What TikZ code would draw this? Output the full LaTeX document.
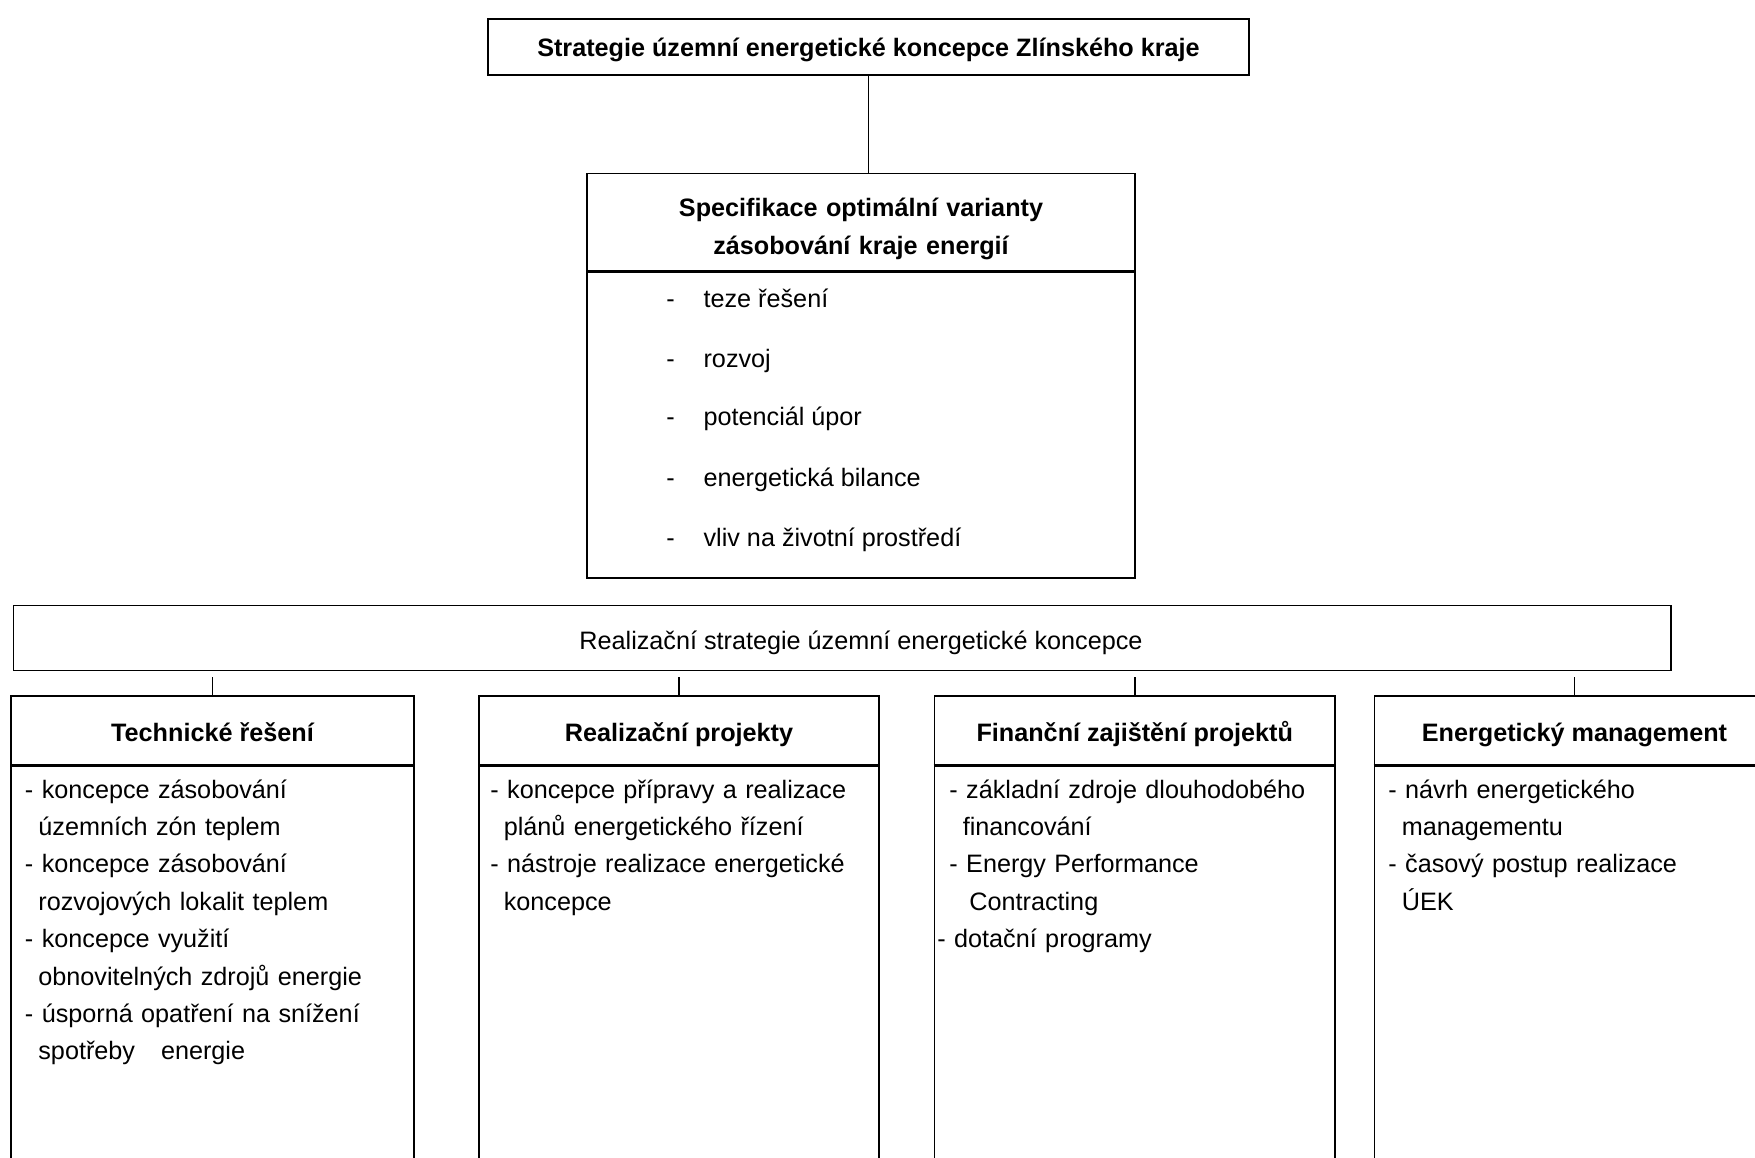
\documentclass[tikz,border=0pt]{standalone}
\usepackage{fontspec}
\setmainfont{Liberation Sans}
\usetikzlibrary{positioning}

\tikzset{
  box/.style={draw, line width=0.8pt, inner sep=0pt},
  titlebox/.style={box, line width=1.4pt},
  heavyline/.style={line width=1.6pt},
  thinline/.style={line width=0.8pt},
  boldtxt/.style={inner sep=0pt, font=\fontsize{12.6}{19}\selectfont\bfseries},
  plaintxt/.style={inner sep=0pt, font=\fontsize{12.6}{18.7}\selectfont},
  itemlist/.style={plaintxt, anchor=base west, text width=185pt, align=left},
}

\begin{document}
\begin{tikzpicture}[x=0.5pt,y=0.5pt,yscale=-1,xscale=1]
\useasboundingbox (0,0) rectangle (1755,1157);
\clip (0,0) rectangle (1755,1157);

%Title box
\node [titlebox, minimum width=380.5pt, minimum height=28pt] (title) at (868.5,47) {};
% Text Node
\node [boldtxt, anchor=base] (titletext) at (868.5,56) {Strategie územní energetické koncepce Zlínského kraje};

%Specification box: head and body
\node [box, minimum width=274.25pt, minimum height=48.75pt] (spechead) at (861,222.25) {};
\node [box, minimum width=274.25pt, minimum height=152.75pt, below=0pt of spechead] (specbody) {};
%Straight Lines
\draw [thinline] (title.south) -- (title.south |- spechead.north);
% Text Node
\node [boldtxt, anchor=base, text width=260pt, align=center] (spectext) at (861,216) {Specifikace optimální varianty\\zásobování kraje energií};
% Text Node
\node [plaintxt, anchor=base west] (spec1) at (666,307) {\makebox[18.6pt][l]{-}teze řešení};
\node [plaintxt, anchor=base west] (spec2) at (666,367) {\makebox[18.6pt][l]{-}rozvoj};
\node [plaintxt, anchor=base west] (spec3) at (666,425.5) {\makebox[18.6pt][l]{-}potenciál úpor};
\node [plaintxt, anchor=base west] (spec4) at (666,486) {\makebox[18.6pt][l]{-}energetická bilance};
\node [plaintxt, anchor=base west] (spec5) at (666,546) {\makebox[18.6pt][l]{-}vliv na životní prostředí};

%Realization box
\node [box, minimum width=828.8pt, minimum height=32.5pt] (real) at (842.2,638) {};
% Text Node
\node [plaintxt, anchor=base] (realtext) at (861,649) {Realizační strategie územní energetické koncepce};

%Lower boxes: heads
\node [box, minimum width=201.5pt, minimum height=34.25pt] (tech) at (212.5,730.25) {};
\node [box, minimum width=200pt, minimum height=34.25pt] (proj) at (679,730.25) {};
\node [box, minimum width=200.25pt, minimum height=34.25pt] (fin) at (1134.75,730.25) {};
\node [box, minimum width=200pt, minimum height=34.25pt] (mgmt) at (1574.5,730.25) {};
%Lower boxes: bodies
\node [box, minimum width=201.5pt, minimum height=215pt, below=0pt of tech] (techbody) {};
\node [box, minimum width=200pt, minimum height=215pt, below=0pt of proj] (projbody) {};
\node [box, minimum width=200.25pt, minimum height=215pt, below=0pt of fin] (finbody) {};
\node [box, minimum width=200pt, minimum height=215pt, below=0pt of mgmt] (mgmtbody) {};
%Straight Lines
\draw [heavyline] (tech.south west) -- (tech.south east);
\draw [heavyline] (proj.south west) -- (proj.south east);
\draw [heavyline] (fin.south west) -- (fin.south east);
\draw [heavyline] (mgmt.south west) -- (mgmt.south east);
%Straight Lines
\draw [thinline] (tech.north) -- +(0,-18);
\draw [thinline] (proj.north) -- +(0,-18);
\draw [thinline] (fin.north) -- +(0,-18);
\draw [thinline] (mgmt.north) -- +(0,-18);

% Text Node
\node [boldtxt, anchor=base] (techtext) at (212.5,741) {Technické řešení};
\node [boldtxt, anchor=base] (projtext) at (679,741) {Realizační projekty};
\node [boldtxt, anchor=base] (fintext) at (1134.75,741) {Finanční zajištění projektů};
\node [boldtxt, anchor=base] (mgmttext) at (1574.5,741) {Energetický management};

% Text Node
\node [itemlist] (techlist) at (24.6,798) {- koncepce zásobování\\\hspace*{6.7pt}územních zón teplem\\- koncepce zásobování\\\hspace*{6.7pt}rozvojových lokalit teplem\\- koncepce využití\\\hspace*{6.7pt}obnovitelných zdrojů energie\\- úsporná opatření na snížení\\\hspace*{6.7pt}spotřeby\hspace{13pt}energie};
% Text Node
\node [itemlist] (projlist) at (490,798) {- koncepce přípravy a realizace\\\hspace*{6.7pt}plánů energetického řízení\\- nástroje realizace energetické\\\hspace*{6.7pt}koncepce};
% Text Node
\node [itemlist] (finlist) at (949,798) {- základní zdroje dlouhodobého\\\hspace*{6.7pt}financování\\- Energy Performance\\\hspace*{10pt}Contracting\\\hspace*{-6pt}- dotační programy};
% Text Node
\node [itemlist] (mgmtlist) at (1388,798) {- návrh energetického\\\hspace*{6.7pt}managementu\\- časový postup realizace\\\hspace*{6.7pt}ÚEK};

\end{tikzpicture}
\end{document}
